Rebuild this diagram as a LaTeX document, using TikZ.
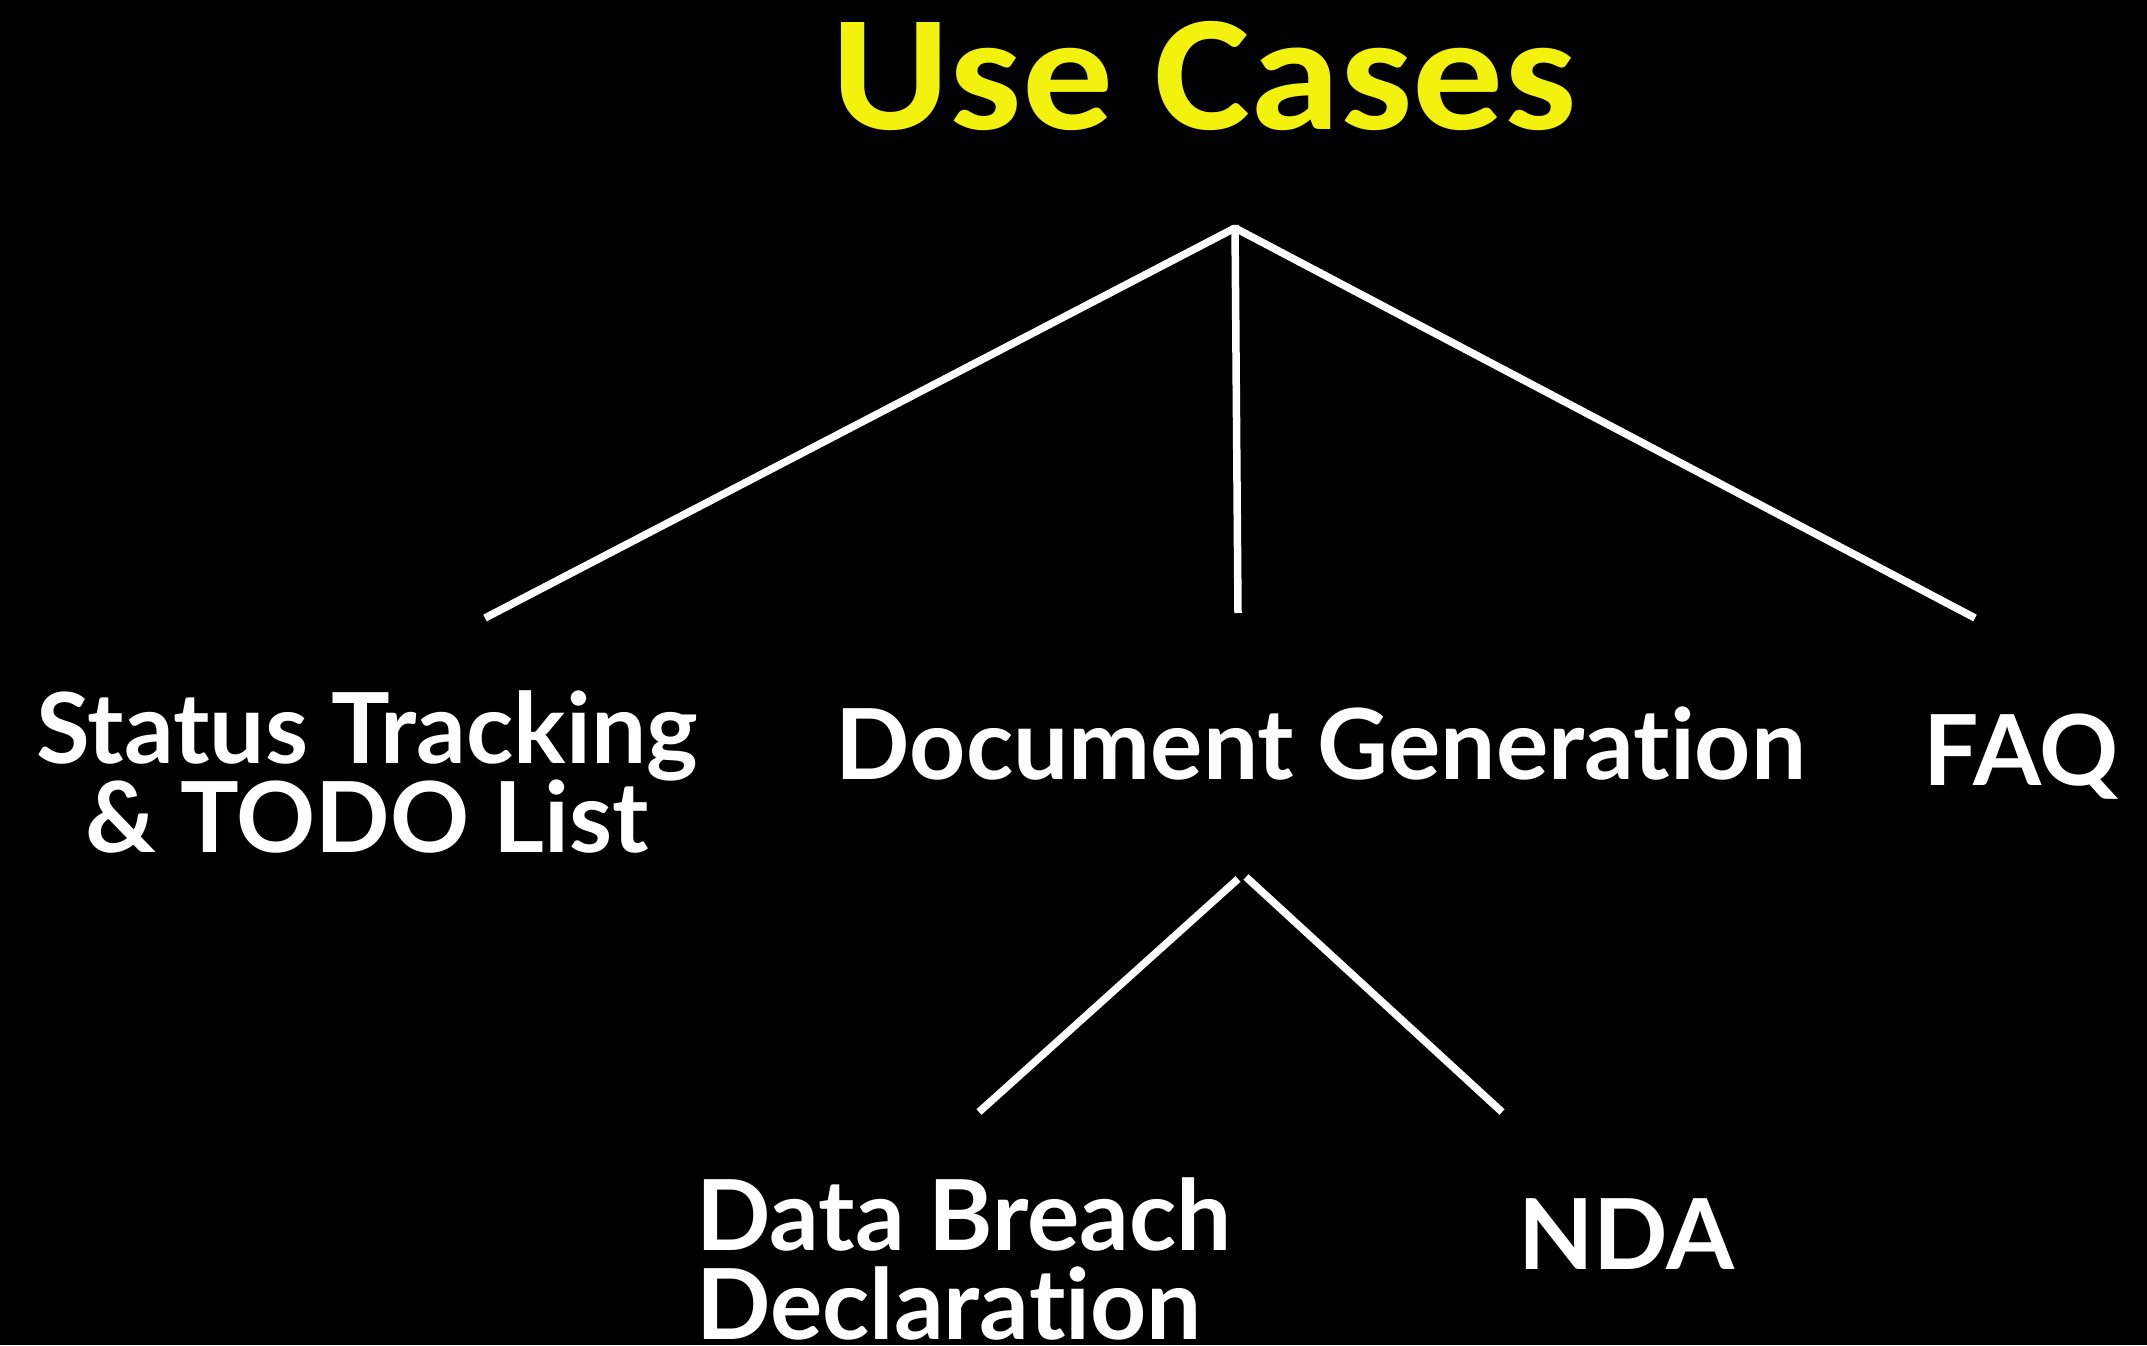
\documentclass[tikz,border=0pt]{standalone}
\usepackage{fontspec}
\setmainfont[Ligatures=NoCommon]{Lato}
\newfontfamily\titlefont{Carlito}
\definecolor{titleyellow}{RGB}{242,242,14}
\begin{document}
\begin{tikzpicture}[x=1pt,y=1pt,
  lbl/.style={text=white,inner sep=0pt,font=\fontsize{98}{110}\selectfont\bfseries},
  conn/.style={draw=white,line width=7.5pt}]
\fill[black] (0,0) rectangle (2147,1345);
\useasboundingbox (0,0) rectangle (2147,1345);
\node[inner sep=0pt,text=titleyellow,font=\titlefont\bfseries\fontsize{165}{170}\selectfont,anchor=base,xscale=1.1] (title) at (1204,1215) {Use Cases};
\coordinate (j1) at (1235,1117);
\coordinate (j1top) at (1235,1120);
\coordinate (eL) at (485,727);
\coordinate (eM) at (1238,732);
\coordinate (eR) at (1975,727);
\coordinate (j2a) at (1238,466);
\coordinate (j2b) at (1246,468);
\coordinate (eDB) at (979,233);
\coordinate (eNDA) at (1502,233);
\node[lbl,anchor=base] (st1) at (367,581) {Status Tracking};
\node[lbl,anchor=base] (st2) at (367,492) {\& TODO List};
\node[lbl,anchor=base] (doc) at (1321,565) {Document Generation};
\node[lbl,anchor=base] (faq) at (2021,559) {FAQ};
\node[lbl,anchor=base west] (db1) at (696,95) {Data Breach};
\node[lbl,anchor=base west] (db2) at (696,6) {Declaration};
\node[lbl,anchor=base] (nda) at (1626,76) {NDA};
\draw[conn] (j1) -- (eL);
\draw[conn] (j1top) -- (eM);
\draw[conn] (j1) -- (eR);
\draw[conn] (j2a) -- (eDB);
\draw[conn] (j2b) -- (eNDA);
\end{tikzpicture}
\end{document}
